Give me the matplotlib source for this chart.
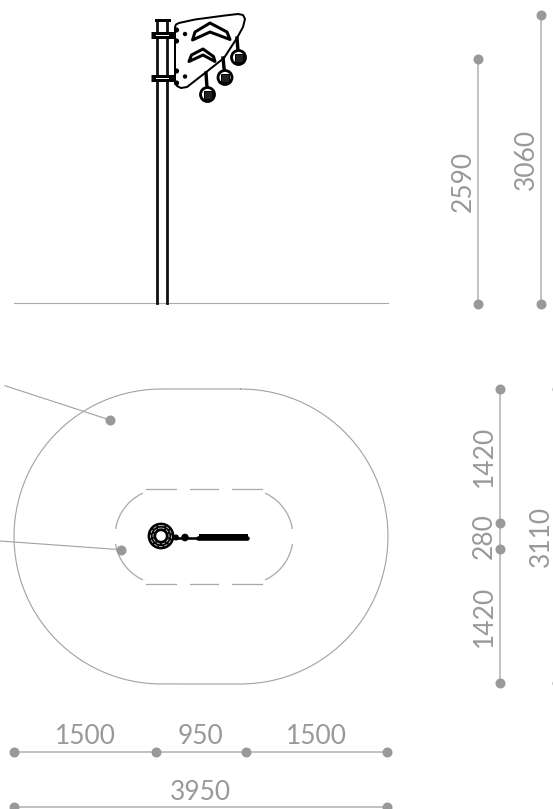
import numpy as np
import matplotlib
matplotlib.use('Agg')
import matplotlib.pyplot as plt
from matplotlib.patches import Circle, Polygon

plt.rcParams['font.family'] = ['Lato', 'DejaVu Sans']

# dimension chains: fixed coordinate, stops along the line
bottom_y = 751.5
bottom_stops = [14, 156, 245.5, 387]
bottom_labels = ['1500', '950', '1500']
total_y = 807
total_stops = [14, 387]
total_label = '3950'

side_lines = [(478, 59, 304), (541, 14.5, 304)]
side_labels = ['2590', '3060']
side_label_pos = [(463, 181), (526, 159)]

plan_x = 500
plan_stops = [389, 523, 549, 683]
plan_labels = ['1420', '280', '1420']
plan_label_y = [456, 536, 616]
plan_total_label = '3110'
plan_total_pos = (541.5, 536)
plan_total_stops = [389, 683]

# callout leaders
leaders = [((5, 385.7), (110, 420)), ((0, 541), (120.7, 549.7))]

# plan outlines
outer_box = (14, 388, 389, 684)
inner_box = (115, 293, 489, 584)
inner_top_dashes = [(146, 176), (190, 218), (232, 262)]

# elevation of the post
ground_y = 303
ground_x = (14, 388)
post_x = (156.5, 167.3)
post_top = 20
clamp_y = [35, 77.5]

panel_xy = [(175, 27), (176, 24.5), (179, 23), (195, 19.5), (225, 15.5), (238, 14), (243, 15), (245, 19),
            (243, 27), (237, 38), (224, 58), (205, 73), (187, 87), (181, 88), (177, 86), (175, 82)]
chevron_upper = [(192.5, 40), (195, 32), (210, 23), (227, 32), (230, 39.5), (210, 32)]
chevron_lower = [(189, 61.5), (191.5, 55), (203, 49), (213.5, 56.5), (215, 61.5), (203, 55)]
tag_tops = [(237, 38), (223, 58), (206, 73)]
tag_centres = [(238.5, 57.5), (225, 77.5), (207.5, 94.5)]
panel_holes = [(185, 34), (185, 76.5)]
panel_bolts = [(176.5, 30), (176.5, 41), (176.5, 71), (176.5, 83)]

# bumps along the bar in the plan view
bar_bumps = [(200, 212), (215, 228), (231, 246)]

grey_line = '#b4b4b4'
grey_dot = '#999999'
grey_text = '#999999'
px = 0.72


def rounded_outline(box):
    # stadium shape, clockwise from the top left
    x0, x1, y0, y1 = box
    r = (y1 - y0) / 2
    cy = (y0 + y1) / 2
    right = np.linspace(-90, 90, 120)
    left = np.linspace(90, 270, 120)
    xs = np.r_[x1 - r + r * np.cos(np.radians(right)), x0 + r + r * np.cos(np.radians(left))]
    ys = np.r_[cy + r * np.sin(np.radians(right)), cy + r * np.sin(np.radians(left))]
    return np.r_[xs, xs[0]], np.r_[ys, ys[0]]


def arc(cx, cy, r, a0, a1, **kw):
    t = np.radians(np.linspace(a0, a1, 40))
    ax.plot(cx + r * np.cos(t), cy + r * np.sin(t), **kw)


def dimension(xs, ys):
    ax.plot(xs, ys, color=grey_line, lw=1.6 * px, zorder=2, clip_on=True)
    ax.plot(xs, ys, 'o', color=grey_dot, ms=10 * px, mew=0, zorder=3)


fig = plt.figure(figsize=(5.53, 8.09), dpi=100)
ax = fig.add_axes([0, 0, 1, 1])
ax.set_xlim(0, 553)
ax.set_ylim(809, 0)
ax.axis('off')

# Ground and post
ax.plot(ground_x, [ground_y, ground_y], color='#aaaaaa', lw=1.1 * px)
for x in post_x:
    ax.plot([x, x], [post_top, ground_y], color='#111111', lw=2.8 * px)
ax.plot([post_x[0] - 0.5, post_x[1] + 2], [post_top, post_top], color='k', lw=3 * px)
for y in clamp_y:
    ax.plot([151, 175], [y, y], color='k', lw=7 * px, solid_capstyle='butt')
    ax.plot([156, 168], [y, y], color='w', lw=1 * px)

# Panel
ax.add_patch(Polygon(panel_xy, closed=True, fc='w', ec='k', lw=2 * px, joinstyle='round', zorder=3))
for chev in (chevron_upper, chevron_lower):
    ax.add_patch(Polygon(chev, closed=True, fc='w', ec='k', lw=3 * px, joinstyle='round', zorder=4))
for (x0, y0), (x1, y1) in zip(tag_tops, tag_centres):
    ax.plot([x0, x1], [y0, y1], color='k', lw=3.4 * px, zorder=4)
    ax.add_patch(Circle((x1, y1), 7, fc='w', ec='k', lw=2.8 * px, zorder=5))
    ax.add_patch(Polygon([(x1 - 4, y1 - 4), (x1 + 4, y1 - 4), (x1 + 4, y1 + 4), (x1 - 4, y1 + 4)],
                         closed=True, fc='#222222', ec='k', lw=1 * px, zorder=6))
for c in panel_holes:
    ax.add_patch(Circle(c, 2.2, fc='k', ec='none', zorder=5))
for c in panel_bolts:
    ax.add_patch(Circle(c, 2.6, fc='k', ec='none', zorder=5))

# Plan outlines
xs, ys = rounded_outline(outer_box)
ax.plot(xs, ys, color='#a0a0a0', lw=1.1 * px, snap=False, solid_capstyle='round', solid_joinstyle='round')

x0, x1, y0, y1 = inner_box
r = (y1 - y0) / 2
cy = (y0 + y1) / 2
dash = dict(color='#ababab', lw=1.3 * px)
for a, b in inner_top_dashes:
    ax.plot([a, b], [y0, y0], **dash)
    ax.plot([a, b], [y1, y1], **dash)
arc(x0 + r, cy, r, 190, 245, **dash)
arc(x0 + r, cy, r, 115, 170, **dash)
arc(x1 - r, cy, r, -65, -10, **dash)
arc(x1 - r, cy, r, 10, 65, **dash)

# Plan view of the post
cx, cyy = 161, 536
ax.add_patch(Circle((cx, cyy), 13.4, fc='k', ec='none', zorder=4))
for rr in (10.5, 8):
    ax.add_patch(Circle((cx, cyy), rr, fc='none', ec='#eeeeee', lw=0.7 * px, ls=(0, (5, 2.5)), zorder=5))
ax.add_patch(Circle((cx, cyy), 4.8, fc='w', ec='none', zorder=5))
ax.plot([cx + 12, 247], [cyy + 1.5, cyy + 1.5], color='k', lw=2.6 * px, zorder=4)
ax.add_patch(Circle((185, cyy + 1.5), 3.8, fc='k', ec='none', zorder=5))
ax.add_patch(Circle((176, cyy + 1.5), 3, fc='k', ec='none', zorder=5))
ax.plot([198, 247], [cyy + 1.5, cyy + 1.5], color='k', lw=4.6 * px, solid_capstyle='round', zorder=4)
for a, b in bar_bumps:
    ax.plot([a, b], [cyy - 1, cyy - 1], color='k', lw=3 * px, zorder=4)

# Leaders
for start, end in leaders:
    ax.plot([start[0], end[0]], [start[1], end[1]], color='#a0a0a0', lw=1.1 * px)
    ax.plot(*end, 'o', color=grey_dot, ms=10 * px, mew=0, zorder=6)

# Dimensions
text_style = dict(color=grey_text, fontsize=19, ha='center', va='center')

dimension(bottom_stops, [bottom_y] * len(bottom_stops))
for a, b, lab in zip(bottom_stops[:-1], bottom_stops[1:], bottom_labels):
    ax.text((a + b) / 2, bottom_y - 15.5, lab, **text_style)

dimension(total_stops, [total_y] * 2)
ax.text(sum(total_stops) / 2, total_y - 15, total_label, **text_style)

for (x, y0, y1), lab, pos in zip(side_lines, side_labels, side_label_pos):
    dimension([x, x], [y0, y1])
    ax.text(pos[0], pos[1], lab, rotation=90, **text_style)

dimension([plan_x] * 4, plan_stops)
for y, lab in zip(plan_label_y, plan_labels):
    ax.text(484, y, lab, rotation=90, **text_style)
ax.text(plan_total_pos[0], plan_total_pos[1], plan_total_label, rotation=90, **text_style)
ax.plot([557] * 2, plan_total_stops, 'o', color=grey_dot, ms=10 * px, mew=0)

fig.savefig('out.png', dpi=100)
